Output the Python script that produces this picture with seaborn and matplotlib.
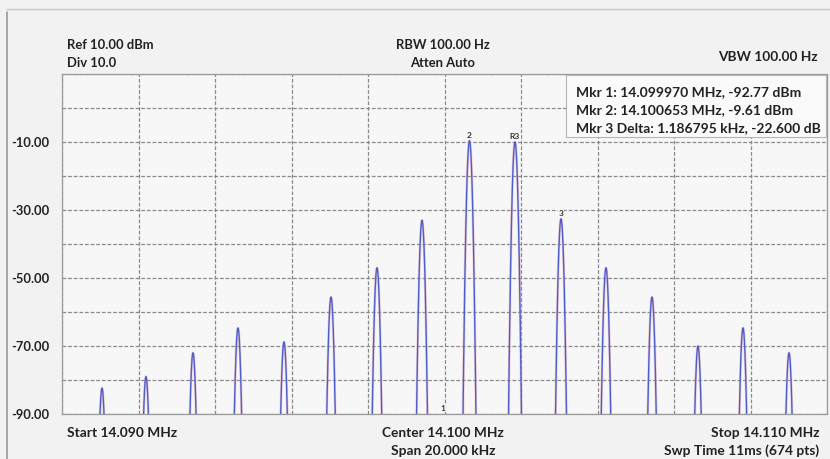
import numpy as np
import pandas as pd
import seaborn as sns
import matplotlib.pyplot as plt
from matplotlib.lines import Line2D
from matplotlib.patches import Rectangle

# Peak frequencies (MHz) and peak levels (dBm)
peak_freq_mhz = [14.091046, 14.092196, 14.093425, 14.094601, 14.095804, 14.097033,
                 14.098235, 14.099412, 14.100653, 14.101843, 14.103046, 14.104222,
                 14.105425, 14.106627, 14.107804, 14.109007]
peak_level_dbm = [-82.4, -79.0, -72.0, -64.7, -68.8, -55.6, -47.0, -33.0,
                  -9.61, -10.0, -32.6, -47.0, -55.6, -70.0, -64.7, -72.0]

# Markers: label, frequency (MHz), level (dBm)
marker_labels = ['1', '2', 'R3', '3']
marker_freq_mhz = [14.099970, 14.100653, 14.101843, 14.103046]
marker_level_dbm = [-92.77, -9.61, -10.0, -32.6]

marker_readout = ['Mkr 1: 14.099970 MHz, -92.77 dBm',
                  'Mkr 2: 14.100653 MHz, -9.61 dBm',
                  'Mkr 3 Delta: 1.186795 kHz, -22.600 dB']

y_ticks = [-90, -80, -70, -60, -50, -40, -30, -20, -10, 0, 10]
y_tick_labels = ['-90.00', '', '-70.00', '', '-50.00', '', '-30.00', '', '-10.00', '', '']

start_mhz, stop_mhz = 14.090, 14.110
rbw_hz = 100.0

# build the displayed trace: narrow RBW filter response around each tone
freq = np.linspace(start_mhz, stop_mhz, 8001)
curv = 0.0028 * (100.0 / rbw_hz) ** 2  # dB per Hz^2 of the filter skirt
level = np.full_like(freq, -130.0)
for f0, p in zip(peak_freq_mhz, peak_level_dbm):
    df_hz = (freq - f0) * 1e6
    level = np.maximum(level, p - curv * df_hz ** 2)
trace = pd.DataFrame({'freq': freq, 'level': level})

sns.set_style('white')
plt.rcParams['font.family'] = ['Lato', 'DejaVu Sans']

fig = plt.figure(figsize=(8.3, 4.59), dpi=100, facecolor='#f2f2f2')
ax = fig.add_axes([62 / 830, 1 - 414 / 459, 765 / 830, 340 / 459])
ax.set_facecolor('#f7f7f7')

sns.lineplot(data=trace, x='freq', y='level', ax=ax, color='#e0a8bc',
             linewidth=1.9, alpha=0.5, estimator=None, sort=False)
sns.lineplot(data=trace, x='freq', y='level', ax=ax, color='#4f5fc9',
             linewidth=1.0, estimator=None, sort=False)

ax.set_xlim(start_mhz, stop_mhz)
ax.set_ylim(-90, 10)
ax.set_xticks(np.linspace(start_mhz, stop_mhz, 11))
ax.set_xticklabels([])
ax.set_yticks(y_ticks)
ax.set_yticklabels(y_tick_labels, fontsize=9.3, fontweight='bold', color='#222222')
ax.tick_params(axis='both', length=0, pad=9)
ax.grid(True, color='#8a8a8a', linestyle=(0, (3, 1.5)), linewidth=0.9)
ax.set_xlabel('')
ax.set_ylabel('')
for s in ax.spines.values():
    s.set_color('#9a9a9a')
    s.set_linewidth(0.9)

# marker labels above the peaks
for lab, mf, ml in zip(marker_labels, marker_freq_mhz, marker_level_dbm):
    ax.text(mf, max(ml, -90) + 0.6, lab, ha='center', va='bottom',
            fontsize=6, fontweight='bold', color='#333333',
            bbox=dict(boxstyle='square,pad=0.05', fc='#f7f7f7', ec='none'))


def fx(x):
    return x / 830


def fy(y):
    return 1 - y / 459


# marker readout box
fig.add_artist(Rectangle((fx(566), fy(137)), fx(826) - fx(566), fy(75) - fy(137),
                         transform=fig.transFigure, fc='#fafafa', ec='#b4b4b4',
                         lw=0.8, zorder=5))
for i, line in enumerate(marker_readout):
    fig.text(fx(576), fy(92 + 18 * i), line, ha='left', va='center', fontsize=10,
             fontweight='bold', color='#222222', zorder=6)


def ftext(x, y, s, ha='left', size=9.4):
    fig.text(fx(x), fy(y), s, ha=ha, va='center', fontsize=size,
             fontweight='bold', color='#222222')


ftext(67, 45, 'Ref 10.00 dBm')
ftext(67, 63, 'Div 10.0')
ftext(443, 45, 'RBW 100.00 Hz', ha='center')
ftext(443, 63, 'Atten Auto', ha='center')
ftext(818, 57, 'VBW 100.00 Hz', ha='right', size=9.8)
ftext(67, 433, 'Start 14.090 MHz', size=9.9)
ftext(443, 433, 'Center 14.100 MHz', ha='center', size=9.9)
ftext(443, 451, 'Span 20.000 kHz', ha='center', size=9.9)
ftext(819, 433, 'Stop 14.110 MHz', ha='right', size=9.9)
ftext(819, 451, 'Swp Time 11ms (674 pts)', ha='right', size=9.9)

# screen bezel edges
fig.add_artist(Line2D([fx(7), fx(7)], [0, fy(12)], color='#9a9a9a', lw=1.2))
fig.add_artist(Line2D([fx(7), 1], [fy(9), fy(9)], color='#c8c8c8', lw=1.0))

fig.savefig('out.png', dpi=100, facecolor=fig.get_facecolor())
